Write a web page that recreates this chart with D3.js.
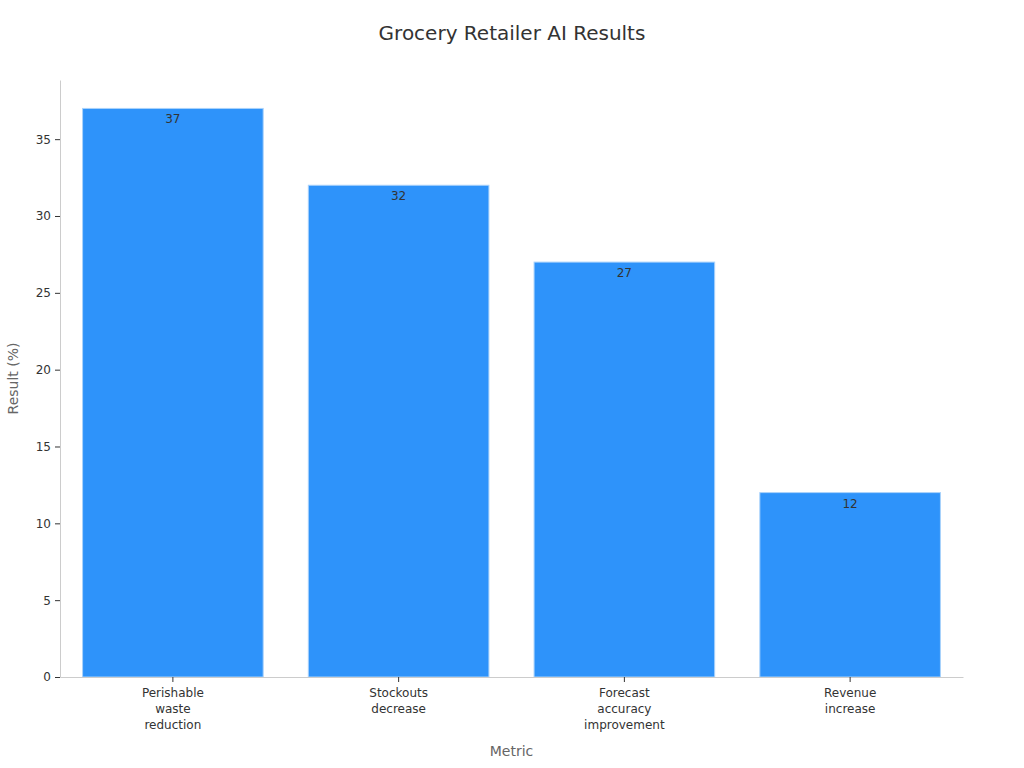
<!DOCTYPE html>
<html lang="en">
<head>
	<meta charset="UTF-8" />
	<script src="https://d3js.org/d3.v7.min.js"></script>
	<style>
		body { margin: 0; background: #fff; }
		text { font-family: "DejaVu Sans", sans-serif; }
	</style>
</head>
<body>
	<svg width="1024" height="768"></svg>
	<script>
		// data
		var categories = [["Perishable", "waste", "reduction"], ["Stockouts", "decrease"], ["Forecast", "accuracy", "improvement"], ["Revenue", "increase"]];
		var values = [37, 32, 27, 12];
		var yTicks = [0, 5, 10, 15, 20, 25, 30, 35];

		var plotLeft = 60, plotRight = 963, plotTop = 80, plotBottom = 677;
		var svg = d3.select("svg");

		var x = d3.scaleBand()
			.domain(d3.range(categories.length))
			.range([plotLeft, plotRight])
			.paddingInner(0.2)
			.paddingOuter(0.1);

		var y = d3.scaleLinear()
			.domain([0, d3.max(values) * 1.05])
			.range([plotBottom, plotTop]);

		// title
		svg.append("text")
			.attr("x", 512).attr("y", 40)
			.attr("text-anchor", "middle")
			.attr("fill", "#333")
			.style("font-size", "20px")
			.text("Grocery Retailer AI Results");

		// bars
		svg.selectAll("rect.bar")
			.data(values)
			.enter().append("rect")
			.attr("class", "bar")
			.attr("x", function(d, i) { return x(i); })
			.attr("y", function(d) { return y(d); })
			.attr("width", x.bandwidth())
			.attr("height", function(d) { return plotBottom - y(d); })
			.attr("fill", "#2e93fa")
			.attr("stroke", "#a9d2fb")
			.attr("stroke-width", 1);

		// value labels
		svg.selectAll("text.val")
			.data(values)
			.enter().append("text")
			.attr("class", "val")
			.attr("x", function(d, i) { return x(i) + x.bandwidth() / 2; })
			.attr("y", function(d) { return y(d) + 15; })
			.attr("text-anchor", "middle")
			.attr("fill", "#333")
			.style("font-size", "12px")
			.text(function(d) { return d; });

		// y axis
		var yAxis = svg.append("g")
			.attr("transform", "translate(" + plotLeft + ",0)")
			.call(d3.axisLeft(y).tickValues(yTicks).tickSize(5).tickSizeOuter(0).tickPadding(4));
		yAxis.select(".domain").attr("stroke", "#ccc");
		yAxis.selectAll(".tick line").attr("stroke", "#333");
		yAxis.selectAll(".tick text").attr("fill", "#333").style("font-size", "12px").style("font-family", "DejaVu Sans");

		// x axis
		var xAxis = svg.append("g")
			.attr("transform", "translate(0," + plotBottom + ")")
			.call(d3.axisBottom(x).tickSize(5).tickSizeOuter(0).tickFormat(""));
		xAxis.select(".domain").attr("stroke", "#ccc");
		xAxis.selectAll(".tick line").attr("stroke", "#333");
		xAxis.selectAll(".tick").each(function(d) {
			var t = d3.select(this).append("text")
				.attr("fill", "#333")
				.attr("text-anchor", "middle")
				.style("font-size", "12px");
			categories[d].forEach(function(line, k) {
				t.append("tspan").attr("x", 0).attr("y", 20 + k * 16).text(line);
			});
		});

		// axis titles
		svg.append("text")
			.attr("x", (plotLeft + plotRight) / 2).attr("y", 756)
			.attr("text-anchor", "middle")
			.attr("fill", "#666")
			.style("font-size", "14px")
			.text("Metric");

		svg.append("text")
			.attr("transform", "translate(18," + ((plotTop + plotBottom) / 2) + ") rotate(-90)")
			.attr("text-anchor", "middle")
			.attr("fill", "#666")
			.style("font-size", "14px")
			.text("Result (%)");
	</script>
</body>
</html>
